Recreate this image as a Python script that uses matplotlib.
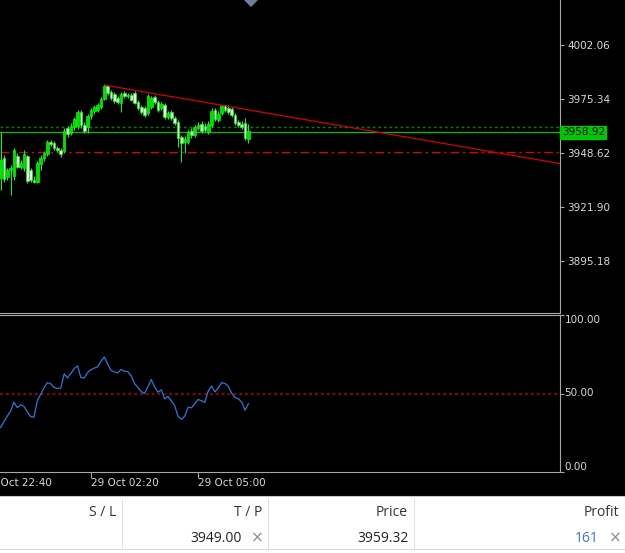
import numpy as np
import matplotlib
matplotlib.use("Agg")
import matplotlib.pyplot as plt
from matplotlib.patches import Rectangle, Polygon
from matplotlib.lines import Line2D
import matplotlib.transforms as mtransforms

# M5 candles
opens = [3936.2, 3946.1, 3936.7, 3940.2, 3937.2, 3947.1, 3941.6, 3941.1, 3947.1, 3940.2,
         3935.2, 3934.2, 3943.1, 3946.1, 3948.1, 3954.0, 3953.5, 3951.0, 3950.0, 3949.6,
         3960.9, 3958.5, 3961.4, 3961.9, 3968.9, 3962.4, 3961.4, 3966.9, 3969.4, 3969.9,
         3971.3, 3975.3, 3981.7, 3978.8, 3977.8, 3975.8, 3973.3, 3978.3, 3976.8, 3977.3,
         3978.3, 3973.8, 3971.3, 3970.8, 3968.4, 3971.3, 3976.3, 3973.8, 3970.8, 3972.3,
         3966.4, 3968.9, 3965.9, 3963.9, 3956.5, 3954.0, 3954.0, 3959.5, 3957.5, 3960.9,
         3962.9, 3961.9, 3959.0, 3962.4, 3969.9, 3964.9, 3968.4, 3972.3, 3970.8, 3970.3,
         3967.4, 3963.9, 3962.9, 3963.4, 3955.5]
highs = [3959.0, 3947.6, 3941.1, 3942.6, 3951.0, 3948.6, 3945.1, 3950.0, 3947.6, 3941.1,
         3937.2, 3944.6, 3947.6, 3949.6, 3955.0, 3955.0, 3954.5, 3952.0, 3951.0, 3960.9,
         3961.9, 3963.4, 3966.4, 3969.9, 3969.9, 3963.9, 3967.9, 3970.8, 3972.3, 3973.3,
         3976.3, 3982.7, 3982.2, 3979.8, 3978.8, 3976.8, 3978.8, 3979.3, 3978.3, 3978.3,
         3979.3, 3974.8, 3972.3, 3971.8, 3977.8, 3976.8, 3977.3, 3974.8, 3973.8, 3973.3,
         3969.4, 3969.9, 3966.9, 3964.9, 3957.5, 3957.0, 3960.0, 3960.9, 3962.4, 3963.9,
         3964.4, 3963.4, 3964.4, 3970.8, 3970.8, 3969.4, 3972.3, 3972.3, 3972.3, 3971.3,
         3968.4, 3964.9, 3964.4, 3965.9, 3962.9]
lows = [3930.2, 3934.2, 3935.2, 3927.8, 3935.2, 3941.1, 3940.6, 3939.7, 3933.7, 3934.2,
        3933.7, 3933.7, 3940.2, 3944.6, 3947.1, 3952.0, 3950.0, 3949.1, 3946.6, 3948.6,
        3956.5, 3957.5, 3960.0, 3960.4, 3960.9, 3958.5, 3958.5, 3965.4, 3967.9, 3968.9,
        3970.3, 3974.8, 3977.3, 3974.8, 3973.3, 3972.8, 3968.9, 3975.8, 3975.8, 3974.3,
        3972.8, 3969.9, 3967.9, 3966.4, 3967.4, 3970.3, 3972.8, 3968.9, 3969.9, 3965.4,
        3965.4, 3964.9, 3962.4, 3951.5, 3944.1, 3948.6, 3953.0, 3956.0, 3956.5, 3960.0,
        3958.5, 3959.0, 3958.0, 3961.4, 3964.4, 3963.9, 3967.4, 3968.9, 3967.9, 3966.4,
        3962.4, 3961.4, 3960.4, 3955.0, 3953.5]
closes = [3945.1, 3935.7, 3940.2, 3941.1, 3950.0, 3941.6, 3943.6, 3948.1, 3934.7, 3935.2,
          3934.2, 3943.6, 3946.1, 3948.6, 3954.0, 3953.0, 3951.0, 3950.0, 3948.1, 3959.5,
          3958.0, 3961.9, 3965.4, 3968.9, 3962.4, 3959.5, 3966.9, 3969.9, 3971.3, 3972.3,
          3975.3, 3981.7, 3978.3, 3975.8, 3974.3, 3973.8, 3977.8, 3976.8, 3977.3, 3974.8,
          3973.3, 3970.8, 3968.9, 3967.4, 3976.8, 3975.8, 3973.8, 3969.9, 3972.8, 3966.4,
          3968.4, 3965.9, 3963.4, 3956.0, 3953.5, 3955.5, 3959.0, 3957.5, 3961.4, 3962.4,
          3959.5, 3960.0, 3962.9, 3969.4, 3965.4, 3967.9, 3972.3, 3969.9, 3968.9, 3967.4,
          3963.4, 3962.4, 3961.4, 3956.0, 3959.5]

rsi = [28.3, 31.9, 35.5, 38.7, 44.4, 41.0, 42.8, 41.8, 38.2, 35.3,
       34.9, 45.6, 49.5, 53.8, 56.9, 56.2, 53.8, 53.2, 53.5, 62.5,
       59.9, 62.7, 65.9, 67.6, 60.1, 59.9, 63.4, 65.1, 66.2, 67.0,
       70.6, 73.2, 68.7, 64.7, 63.7, 63.1, 65.3, 64.2, 63.9, 61.4,
       56.4, 53.9, 51.2, 50.0, 54.4, 58.9, 54.1, 50.8, 52.3, 46.6,
       48.2, 45.3, 42.2, 35.5, 33.6, 35.6, 41.2, 40.9, 43.5, 46.2,
       45.3, 44.4, 51.5, 54.8, 51.0, 53.6, 56.9, 56.4, 54.6, 50.2,
       47.4, 46.7, 44.5, 39.3, 43.6]

price_ticks = [4002.06, 3975.34, 3948.62, 3921.90, 3895.18]
bid = 3958.92
ask_line = 3961.6
tp = 3949.00
trend_bars = [31, 66]
trend_prices = [3982.2, 3972.2]

time_ticks = [-5, 27, 59]
time_labels = ["28 Oct 22:40", "29 Oct 02:20", "29 Oct 05:00"]

headers = ["S / L", "T / P", "Price", "Profit"]
order_tp = "3949.00"
order_price = "3959.32"
order_profit = "161"

W, H = 625, 553
def fx(x):
    return x / W
def fy(y):
    return 1 - y / H

fig = plt.figure(figsize=(6.25, 5.53), dpi=100)
fig.patch.set_facecolor("black")

grey = "#a8a8a8"
lab = "#d8d8d8"
XL = (-0.15, 167.0)

ax = fig.add_axes([0, fy(313), fx(560), 313 / H])
rax = fig.add_axes([0, fy(472), fx(560), 157 / H])

for a in (ax, rax):
    a.set_facecolor("black")
    for s in a.spines.values():
        s.set_color(grey)
        s.set_linewidth(0.8)
    a.spines["left"].set_visible(False)

ax.spines["top"].set_visible(False)
ax.set_ylim(4024.3 - 0.495 * 313, 4024.3)

# candles
x = np.arange(len(closes))
o = np.array(opens); c = np.array(closes)
up = c >= o
ax.vlines(x, lows, highs, color="#00ff00", lw=0.75, zorder=3)
bottoms = np.minimum(o, c)
heights = np.maximum(np.abs(c - o), 0.4)
ax.bar(x[up], heights[up], bottom=bottoms[up], width=0.8,
       color="#00e000", edgecolor="#00ff00", lw=0.5, zorder=4)
ax.bar(x[~up], heights[~up], bottom=bottoms[~up], width=0.8,
       color="#f4fff4", edgecolor="#00ff00", lw=0.5, zorder=4)

# levels
ax.axhline(ask_line, color="#008000", lw=1.0, ls=(0, (2, 2)), zorder=2)
ax.axhline(bid, color="#00c000", lw=0.9, zorder=2)
ax.axhline(tp, color="#e00000", lw=0.9, ls=(0, (7, 3, 2, 3)), zorder=2)

# trendline (ray to the right)
slope = (trend_prices[1] - trend_prices[0]) / (trend_bars[1] - trend_bars[0])
xr = XL[1]
ax.plot([trend_bars[0], xr], [trend_prices[0], trend_prices[0] + slope * (xr - trend_bars[0])],
        color="#d40000", lw=0.9, zorder=5)

ax.yaxis.tick_right()
ax.set_yticks(price_ticks)
ax.set_yticklabels(["%.2f" % p for p in price_ticks])
ax.tick_params(axis="y", colors=grey, labelcolor=lab, labelsize=7.5, length=3, width=0.8, pad=2)
ax.set_xticks([])
ax.set_xlim(*XL)

tr = mtransforms.blended_transform_factory(ax.transAxes, ax.transData)
ax.text(1.003, bid, "%.2f" % bid, transform=tr, ha="left", va="center", fontsize=7.5,
        color="black", bbox=dict(boxstyle="square,pad=0.15", fc="#00c800", ec="#00c800"),
        clip_on=False, zorder=10)

# RSI panel
rax.set_ylim(0, 100)
rax.plot(x, rsi, color="#2a78dc", lw=0.9, zorder=3)
rax.axhline(50, color="#900000", lw=1.4, ls=(0, (1.5, 1.5)), zorder=2)
rax.yaxis.tick_right()
rax.set_yticks([0, 50, 100])
rax.set_yticklabels([])
rax.tick_params(axis="y", colors=grey, length=3, width=0.8)
rtr = mtransforms.blended_transform_factory(rax.transAxes, rax.transData)
rax.text(1.008, 100, "100.00", transform=rtr, ha="left", va="top", fontsize=7.5, color=lab)
rax.text(1.008, 50, "50.00", transform=rtr, ha="left", va="center", fontsize=7.5, color=lab)
rax.text(1.008, 0, "0.00", transform=rtr, ha="left", va="bottom", fontsize=7.5, color=lab)

# time scale: ticks inside the view, labels start at the tick
rax.set_xticks([t for t in time_ticks if t >= XL[0]])
rax.set_xticklabels([])
rax.tick_params(axis="x", colors=grey, length=4, width=0.8)
xtr = mtransforms.blended_transform_factory(rax.transData, rax.transAxes)
for t, s in zip(time_ticks, time_labels):
    rax.annotate(s, (t, 0), xycoords=xtr, xytext=(0, -4.5), textcoords="offset points",
                 ha="left", va="top", fontsize=7.5, color=lab, annotation_clip=False)
rax.set_xlim(*XL)

# shift marker
fig.patches.append(Polygon([[fx(244), fy(0)], [fx(258), fy(0)], [fx(251), fy(7)]],
                           closed=True, transform=fig.transFigure, fc="#6d7fa0", ec="none"))

# order table
fig.patches.append(Rectangle((0, 0), 1, fy(496), transform=fig.transFigure, fc="white", ec="none"))
fig.lines.append(Line2D([0, 1], [fy(496), fy(496)], transform=fig.transFigure, color="#c8c8c8", lw=0.8))
fig.lines.append(Line2D([0, 1], [fy(549), fy(549)], transform=fig.transFigure, color="#dcdcdc", lw=0.8))
for xd in [122, 268, 414]:
    fig.lines.append(Line2D([fx(xd), fx(xd)], [fy(499), fy(549)], transform=fig.transFigure,
                            color="#e0e0e0", lw=0.8))

tf = dict(family=["Open Sans", "DejaVu Sans"], fontsize=10)
for hx, h in zip([116, 262, 408, 619], headers):
    fig.text(fx(hx), fy(513), h, ha="right", va="center", color="#333333", **tf)
fig.text(fx(242), fy(539), order_tp, ha="right", va="center", color="#222222", **tf)
fig.text(fx(257), fy(538), "\u00d7", ha="center", va="center", color="#8c8c8c",
         family=["DejaVu Sans"], fontsize=11)
fig.text(fx(409), fy(539), order_price, ha="right", va="center", color="#222222", **tf)
fig.text(fx(599), fy(539), order_profit, ha="right", va="center", color="#3c6ee6", **tf)
fig.text(fx(615), fy(538), "\u00d7", ha="center", va="center", color="#8c8c8c",
         family=["DejaVu Sans"], fontsize=11)

fig.savefig("out.png", dpi=100, facecolor=fig.get_facecolor())
